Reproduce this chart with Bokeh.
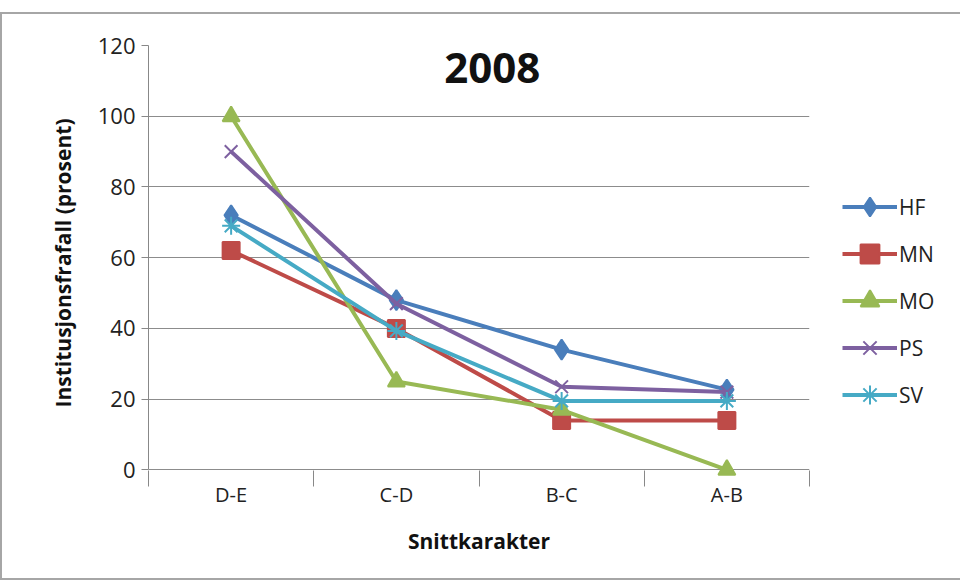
from bokeh.plotting import figure
from bokeh.layouts import column
from bokeh.models import FixedTicker, Legend, LegendItem, Label, Range1d, Spacer
from bokeh.embed import file_html
from bokeh.resources import INLINE

categories = ["D-E", "C-D", "B-C", "A-B"]
series_names = ["HF", "MN", "MO", "PS", "SV"]
hf = [72, 48, 34, 22.7]
mn = [62, 40, 14, 14]
mo = [100, 25, 17, 0]
ps = [90, 47, 23.5, 22]
sv = [69, 39.3, 19.5, 19.5]
y_ticks = [0, 20, 40, 60, 80, 100, 120]

colors = ["#4A7EBB", "#BE4B48", "#98B954", "#7D60A0", "#46AAC5"]
markers = ["diamond", "square", "triangle", "x", "asterisk"]
sizes = [20, 17, 17, 18, 18]
values = [hf, mn, mo, ps, sv]

xs = [i + 0.5 for i in range(len(categories))]

p = figure(output_backend="svg", toolbar_location=None,
           x_range=Range1d(0, len(categories)), y_range=Range1d(-3, 120),
           frame_width=657, frame_height=431,
           min_border_left=146, min_border_right=153, min_border_top=31, min_border_bottom=102)
p.styles = {"border": "2px solid #a6a6a6"}
p.outline_line_color = None
p.background_fill_color = "white"
p.border_fill_color = "white"

FONT = "Open Sans"

# y axis
p.yaxis.ticker = FixedTicker(ticks=y_ticks)
p.yaxis.bounds = (y_ticks[0], y_ticks[-1])
p.yaxis.axis_line_color = "#888888"
p.yaxis.major_tick_line_color = "#888888"
p.yaxis.major_tick_out = 7
p.yaxis.major_tick_in = 0
p.yaxis.minor_tick_line_color = None
p.yaxis.major_label_text_font = FONT
p.yaxis.major_label_text_font_size = "22px"
p.yaxis.major_label_text_color = "#222222"
p.yaxis.major_label_standoff = 6
p.yaxis.axis_label = "Institusjonsfrafall (prosent)"
p.yaxis.axis_label_text_font = FONT
p.yaxis.axis_label_text_font_size = "21px"
p.yaxis.axis_label_text_font_style = "bold"
p.yaxis.axis_label_text_color = "#111111"
p.yaxis.axis_label_standoff = 18

# x axis (drawn at frame bottom; the zero grid line acts as the axis line)
p.xaxis.ticker = FixedTicker(ticks=xs, minor_ticks=list(range(len(categories) + 1)))
p.xaxis.major_label_overrides = {x: c for x, c in zip(xs, categories)}
p.xaxis.axis_line_color = None
p.xaxis.major_tick_line_color = None
p.xaxis.major_tick_out = 0
p.xaxis.minor_tick_line_color = "#888888"
p.xaxis.minor_tick_out = 6
p.xaxis.minor_tick_in = 10
p.xaxis.major_label_text_font = FONT
p.xaxis.major_label_text_font_size = "20px"
p.xaxis.major_label_text_color = "#222222"
p.xaxis.major_label_standoff = -6
p.xaxis.axis_label = "Snittkarakter"
p.xaxis.axis_label_text_font = FONT
p.xaxis.axis_label_text_font_size = "21px"
p.xaxis.axis_label_text_font_style = "bold"
p.xaxis.axis_label_text_color = "#111111"
p.xaxis.axis_label_standoff = 16

p.xgrid.grid_line_color = None
p.ygrid.ticker = FixedTicker(ticks=y_ticks)
p.ygrid.grid_line_color = "#8c8c8c"
p.ygrid.grid_line_width = 1

items = []
for name, vals, c, m, s in zip(series_names, values, colors, markers, sizes):
    r1 = p.line(xs, vals, line_color=c, line_width=4)
    r2 = p.scatter(xs, vals, marker=m, size=s, fill_color=c, line_color=c, line_width=2)
    items.append(LegendItem(label=name, renderers=[r1, r2]))

legend = Legend(items=items, location=(33, 62), orientation="vertical")
legend.glyph_width = 55
legend.glyph_height = 47
legend.spacing = 0
legend.padding = 0
legend.margin = 0
legend.label_standoff = 2
legend.label_text_font = FONT
legend.label_text_font_size = "21px"
legend.label_text_color = "#222222"
legend.border_line_color = None
legend.background_fill_alpha = 0
p.add_layout(legend, "right")

title = Label(x=2.08, y=113.5, text="2008", text_align="center", text_baseline="middle",
              text_font=FONT, text_font_size="42px", text_font_style="bold", text_color="#111111")
p.add_layout(title)

layout = column(Spacer(height=12), p, spacing=0)

open("out.html", "w").write(file_html(layout, INLINE))
